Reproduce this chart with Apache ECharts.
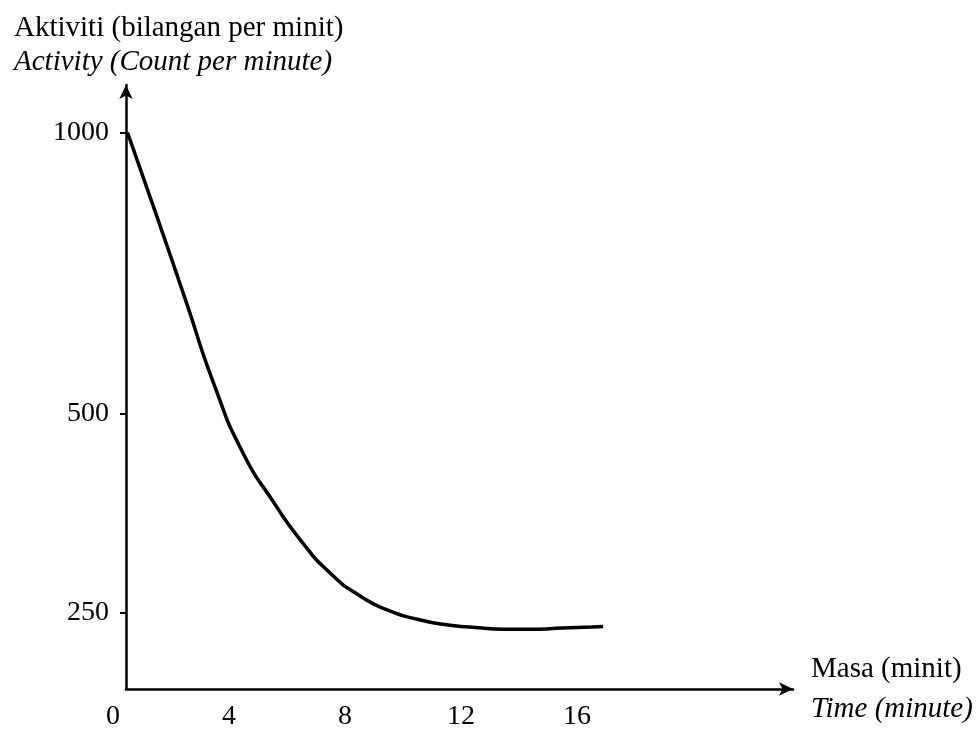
<!DOCTYPE html>
<html>
<head>
<meta charset="utf-8">
<title>Aktiviti</title>
<script src="https://cdn.jsdelivr.net/npm/echarts@6/dist/echarts.min.js"></script>
<style>
  html, body { margin: 0; padding: 0; background: #fff; }
  #chart { width: 977px; height: 731px; }
</style>
</head>
<body>
<div id="chart"></div>
<script>
// curve (time in minutes, activity in axis units)
const timeMin = [0.5, 1.5, 2.5, 3.5, 4.5, 5.5, 6.5, 7.5, 8.5, 9.5, 10.5, 11.5, 12.5, 13.5, 14.5, 15.5, 16.5, 16.9]
const activity = [1000, 850, 697, 542, 418, 334, 260, 202, 162, 135, 119, 109, 104, 101, 101, 103, 105, 106]

// x tick labels
const xTicks = [0, 4, 8, 12, 16]
// y tick labels and where they sit on the (not to scale) axis
const yTickLabels = ['250', '500', '1000']
const yTickAt = [137, 495, 1000]

const FONT = 'Liberation Serif'
const chart = echarts.init(document.getElementById('chart'))

chart.setOption({
  animation: false,
  backgroundColor: '#fff',
  title: {
    left: 9,
    top: 6,
    text: '{a|Aktiviti (bilangan per minit)}\n{b|Activity (Count per minute)}',
    textStyle: {
      rich: {
        a: { fontFamily: FONT, fontSize: 29, fontWeight: 'normal', color: '#000', lineHeight: 34 },
        b: { fontFamily: FONT, fontSize: 29, fontWeight: 'normal', fontStyle: 'italic', color: '#000', lineHeight: 34 }
      }
    }
  },
  grid: [
    // grid 0: data scale (x = 0 sits just left of the drawn y axis)
    { left: 113, right: 184, top: 85, bottom: 42 },
    // grid 1: the drawn axes
    { left: 126, right: 184, top: 85, bottom: 42 }
  ],
  xAxis: [
    {
      gridIndex: 0,
      type: 'value',
      min: 0,
      max: 23.45,
      splitLine: { show: false },
      axisLine: { show: false },
      axisTick: { show: false },
      axisLabel: {
        customValues: xTicks,
        margin: 18,
        fontFamily: FONT,
        fontSize: 28,
        color: '#000'
      }
    },
    {
      gridIndex: 1,
      type: 'value',
      min: 0,
      max: 1,
      splitLine: { show: false },
      axisTick: { show: false },
      axisLabel: { show: false },
      axisLine: {
        show: true,
        symbol: ['none', 'arrow'],
        symbolSize: [10, 14],
        lineStyle: { color: '#000', width: 2.5 }
      },
      name: '{a|Masa (minit)}\n{b|Time (minute)}',
      nameLocation: 'end',
      nameGap: 18,
      nameTextStyle: {
        align: 'left',
        verticalAlign: 'middle',
        rich: {
          a: { fontFamily: FONT, fontSize: 29, color: '#000', lineHeight: 40 },
          b: { fontFamily: FONT, fontSize: 29, fontStyle: 'italic', color: '#000', lineHeight: 40 }
        }
      }
    }
  ],
  yAxis: [
    {
      gridIndex: 0,
      type: 'value',
      min: 0,
      max: 1086,
      show: false
    },
    {
      gridIndex: 1,
      type: 'value',
      min: 0,
      max: 1086,
      splitLine: { show: false },
      axisLine: {
        show: true,
        symbol: ['none', 'arrow'],
        symbolSize: [10, 14],
        lineStyle: { color: '#000', width: 2.5 }
      },
      axisTick: {
        show: true,
        customValues: yTickAt,
        length: 6,
        lineStyle: { color: '#000', width: 2 }
      },
      axisLabel: {
        customValues: yTickAt,
        margin: 17,
        fontFamily: FONT,
        fontSize: 28,
        color: '#000',
        formatter: function (v) {
          return yTickLabels[yTickAt.indexOf(v)]
        }
      }
    }
  ],
  series: [
    {
      type: 'line',
      xAxisIndex: 0,
      yAxisIndex: 0,
      data: timeMin.map((t, i) => [t, activity[i]]),
      smooth: 0.6,
      showSymbol: false,
      lineStyle: { color: '#000', width: 3.5 }
    }
  ]
})
</script>
</body>
</html>
